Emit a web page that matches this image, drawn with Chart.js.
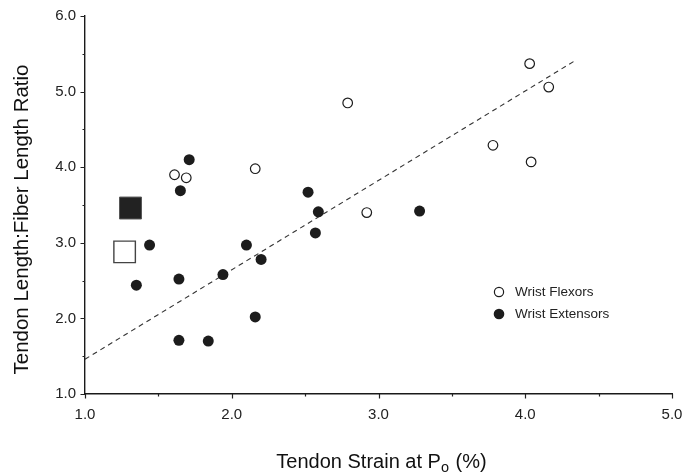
<!DOCTYPE html>
<html>
<head>
<meta charset="utf-8">
<script src="https://cdn.jsdelivr.net/npm/chart.js@4/dist/chart.umd.min.js"></script>
<style>
html,body{margin:0;padding:0;background:#fff;}
canvas{display:block;}
</style>
</head>
<body>
<canvas id="c" width="684" height="475"></canvas>
<script>
// Wrist flexors (open circles): tendon strain at Po (%), tendon:fiber length ratio
const flexorStrain = [4.03, 4.16, 2.79, 3.78, 4.04, 2.92, 2.16, 1.61, 1.69];
const flexorRatio  = [5.37, 5.06, 4.85, 4.29, 4.07, 3.40, 3.98, 3.90, 3.86];
// Wrist extensors (filled circles)
const extensorStrain = [1.71, 1.65, 2.52, 2.59, 2.57, 3.28, 1.44, 2.10, 2.20, 1.94, 1.64, 1.35, 2.16, 1.64, 1.84];
const extensorRatio  = [4.10, 3.69, 3.67, 3.41, 3.13, 3.42, 2.97, 2.97, 2.78, 2.58, 2.52, 2.44, 2.02, 1.71, 1.70];
// Mean values (squares)
const extensorMean = [1.31, 3.46];
const flexorMean   = [1.27, 2.88];
// Regression line endpoints
const fitStrain = [1.0, 4.34];
const fitRatio  = [1.46, 5.41];
// Axes
const xTicksMajor = [1.0, 2.0, 3.0, 4.0, 5.0];
const yTicksMajor = [1.0, 2.0, 3.0, 4.0, 5.0, 6.0];
const legendLabels = ['Wrist Flexors', 'Wrist Extensors'];
const xTitle = ['Tendon Strain at P', 'o', ' (%)'];
const yTitle = 'Tendon Length:Fiber Length Ratio';

const FONT = '"Liberation Sans", Arial, Helvetica, sans-serif';
const INK = '#1c1c1c';

const toPts = (xs, ys) => xs.map((x, i) => ({x: x, y: ys[i]}));
const isMajor = (majors, v) => majors.some(m => Math.abs(m - v) < 1e-6);

const annot = {
  id: 'annot',
  afterDraw(chart) {
    const ctx = chart.ctx;
    const ca = chart.chartArea;
    const xs = chart.scales.x, ys = chart.scales.y;
    ctx.save();
    // tick marks (major longer, minor shorter)
    ctx.strokeStyle = '#222';
    ctx.lineWidth = 1.2;
    ctx.beginPath();
    xs.ticks.forEach(t => {
      const px = Math.round(xs.getPixelForValue(t.value)) + 0.5;
      const len = isMajor(xTicksMajor, t.value) ? 4.5 : 2.5;
      ctx.moveTo(px, ca.bottom); ctx.lineTo(px, ca.bottom + len);
    });
    ys.ticks.forEach(t => {
      const py = Math.round(ys.getPixelForValue(t.value)) + 0.5;
      const len = isMajor(yTicksMajor, t.value) ? 4.5 : 2.5;
      ctx.moveTo(ca.left, py); ctx.lineTo(ca.left - len, py);
    });
    ctx.stroke();
    // legend
    const lx = 499, ly1 = 292, ly2 = 314;
    ctx.lineWidth = 1.2;
    ctx.strokeStyle = INK;
    ctx.fillStyle = '#fff';
    ctx.beginPath(); ctx.arc(lx, ly1, 4.6, 0, Math.PI * 2); ctx.fill(); ctx.stroke();
    ctx.fillStyle = INK;
    ctx.beginPath(); ctx.arc(lx, ly2, 5.3, 0, Math.PI * 2); ctx.fill();
    ctx.font = '13.5px ' + FONT;
    ctx.textBaseline = 'middle';
    ctx.textAlign = 'left';
    ctx.fillStyle = '#222';
    ctx.fillText(legendLabels[0], lx + 16, ly1 + 0.5);
    ctx.fillText(legendLabels[1], lx + 16, ly2 + 0.5);
    // x title with subscript
    ctx.textBaseline = 'alphabetic';
    ctx.fillStyle = '#111';
    const big = '20px ' + FONT, small = '14.5px ' + FONT;
    ctx.font = big; const w1 = ctx.measureText(xTitle[0]).width;
    const w3 = ctx.measureText(xTitle[2]).width;
    ctx.font = small; const w2 = ctx.measureText(xTitle[1]).width;
    const total = w1 + w2 + w3;
    let x0 = 381 - total / 2; const by = 468;
    ctx.font = big; ctx.fillText(xTitle[0], x0, by);
    ctx.font = small; ctx.fillText(xTitle[1], x0 + w1, by + 4);
    ctx.font = big; ctx.fillText(xTitle[2], x0 + w1 + w2 + 1, by);
    // y title
    ctx.translate(27.5, 219.5);
    ctx.rotate(-Math.PI / 2);
    ctx.font = '20.5px ' + FONT;
    ctx.textAlign = 'center';
    ctx.fillText(yTitle, 0, 0);
    ctx.restore();
  }
};

const tickCb = (majors) => function(v) {
  return isMajor(majors, v) ? Number(v).toFixed(1) : '';
};

new Chart(document.getElementById('c'), {
  type: 'scatter',
  data: {
    datasets: [
      {
        label: 'fit', type: 'line', data: toPts(fitStrain, fitRatio),
        borderColor: '#333', borderWidth: 1.1, borderDash: [5, 4],
        pointRadius: 0, fill: false, order: 5
      },
      {
        label: legendLabels[0], data: toPts(flexorStrain, flexorRatio),
        pointRadius: 4.8, pointBorderWidth: 1.2, pointBackgroundColor: '#fff',
        pointBorderColor: INK, order: 2
      },
      {
        label: legendLabels[1], data: toPts(extensorStrain, extensorRatio),
        pointRadius: 5.5, pointBorderWidth: 0, pointBackgroundColor: INK,
        pointBorderColor: INK, order: 1
      },
      {
        label: 'Extensor mean', data: [{x: extensorMean[0], y: extensorMean[1]}],
        pointStyle: 'rect', pointRadius: 15.5, pointBorderWidth: 1,
        pointBackgroundColor: '#222', pointBorderColor: '#555', order: 3
      },
      {
        label: 'Flexor mean', data: [{x: flexorMean[0], y: flexorMean[1]}],
        pointStyle: 'rect', pointRadius: 15.2, pointBorderWidth: 1.4,
        pointBackgroundColor: '#fff', pointBorderColor: '#444', order: 3
      }
    ]
  },
  options: {
    responsive: false,
    animation: false,
    devicePixelRatio: 1,
    layout: {autoPadding: false, padding: {left: 0, right: 12, top: 16, bottom: 0}},
    plugins: {legend: {display: false}, tooltip: {enabled: false}},
    scales: {
      x: {
        type: 'linear', min: 1, max: 5,
        afterFit(s) { s.height = 81; },
        afterBuildTicks(s) { const t = []; for (let v = 1; v <= 5.0001; v += 0.5) t.push({value: Math.round(v * 10) / 10}); s.ticks = t; },
        ticks: {autoSkip: false, maxRotation: 0, padding: 0, color: '#222',
          font: {family: FONT, size: 15}, callback: tickCb(xTicksMajor)},
        grid: {drawOnChartArea: false, drawTicks: true, tickLength: 12, tickColor: 'rgba(0,0,0,0)', lineWidth: 1},
        border: {display: true, color: '#1a1a1a', width: 1.4},
        title: {display: false}
      },
      y: {
        type: 'linear', min: 1, max: 6,
        afterFit(s) { s.width = 85; },
        afterBuildTicks(s) { const t = []; for (let v = 1; v <= 6.0001; v += 0.5) t.push({value: Math.round(v * 10) / 10}); s.ticks = t; },
        ticks: {autoSkip: false, padding: 0, color: '#222',
          font: {family: FONT, size: 15}, callback: tickCb(yTicksMajor)},
        grid: {drawOnChartArea: false, drawTicks: true, tickLength: 9, tickColor: 'rgba(0,0,0,0)', lineWidth: 1},
        border: {display: true, color: '#1a1a1a', width: 1.4},
        title: {display: false}
      }
    }
  },
  plugins: [annot]
});
</script>
</body>
</html>
